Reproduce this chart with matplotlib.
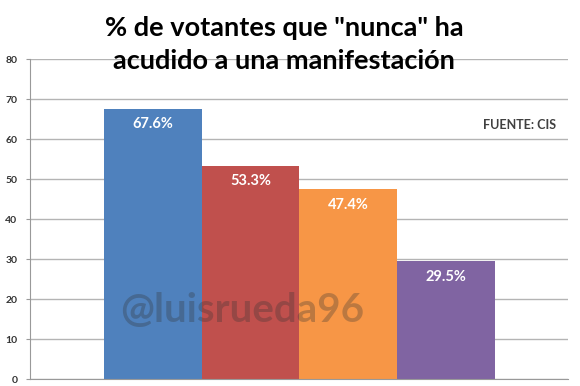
import numpy as np
from matplotlib import pyplot as plt

plt.rcParams['font.family'] = ['Lato', 'DejaVu Sans']

values = [67.6, 53.3, 47.4, 29.5]
labels = ["67.6%", "53.3%", "47.4%", "29.5%"]
colors = ["#4F81BD", "#C0504D", "#F79646", "#8064A2"]
yticks = [0, 10, 20, 30, 40, 50, 60, 70, 80]

fig = plt.figure(figsize=(5.8, 3.86), dpi=100)
ax = fig.add_axes([0.0517, 0.018, 0.9273, 0.829])

x = np.arange(len(values))
ax.bar(x, values, width=1.0, color=colors, zorder=2)
for xi, v, lab in zip(x, values, labels):
    ax.text(xi, v - 3.9, lab, ha='center', va='center', color='white',
            fontsize=10.5, fontweight='bold', zorder=3)

ax.set_xlim(-1.26, 4.25)
ax.set_ylim(0, 80)
ax.set_yticks(yticks)
ax.set_xticks([])
ax.yaxis.grid(True, color='#b4b4b4', linewidth=1.0, zorder=0)
ax.tick_params(axis='y', labelsize=7.5, length=3, width=0.8,
               pad=6, labelcolor='#333333', color='#999999')
for lab in ax.get_yticklabels():
    lab.set_fontweight('bold')
for s in ['top', 'right']:
    ax.spines[s].set_visible(False)
ax.spines['left'].set_color('#999999')
ax.spines['bottom'].set_color('#999999')

fig.text(0.49, 0.886, '% de votantes que "nunca" ha\nacudido a una manifestación',
         ha='center', va='center', fontsize=19.5, fontweight='bold',
         linespacing=1.45)
ax.text(4.13, 63.5, 'FUENTE: CIS', ha='right', va='center', fontsize=9,
        fontweight='bold', color='#404040')
ax.text(0.91, 17.2, '@luisrueda96', ha='center', va='center', fontsize=29,
        fontweight='bold', color='#333333', alpha=0.3, zorder=4)

fig.savefig("out.png", dpi=100)
